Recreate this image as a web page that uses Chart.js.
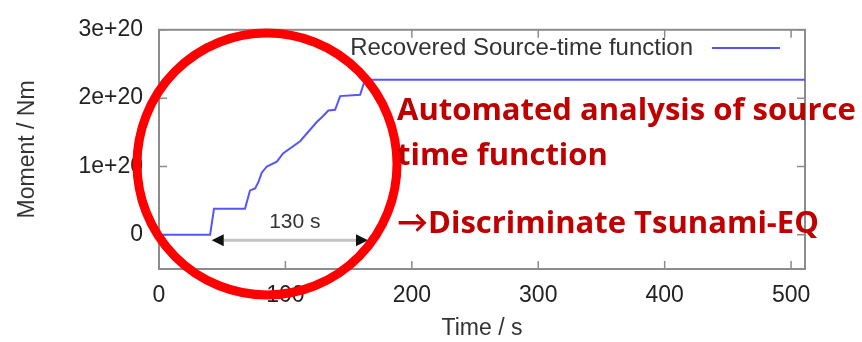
<!DOCTYPE html>
<html>
<head>
<meta charset="utf-8">
<script src="https://cdn.jsdelivr.net/npm/chart.js@4/dist/chart.umd.min.js"></script>
<style>
  html, body { margin: 0; padding: 0; background: #ffffff; }
  #wrap { width: 862px; height: 342px; position: relative; }
</style>
</head>
<body>
<div id="wrap"><canvas id="stf" width="862" height="342"></canvas></div>
<script>
// Recovered source-time function: cumulative moment (Nm) against time (s)
const timeS = [0, 40.4, 43.5, 68.0, 72.0, 76.0, 78.6, 81.3, 85.3, 93.2, 98.1, 111.6, 124.8, 128.8, 134.0, 139.3, 143.3, 159.1, 162.9, 511];
const momentNm = [0, 0, 0.38e20, 0.38e20, 0.65e20, 0.68e20, 0.77e20, 0.91e20, 1.00e20, 1.07e20, 1.19e20, 1.37e20, 1.65e20, 1.72e20, 1.82e20, 1.83e20, 2.03e20, 2.05e20, 2.27e20, 2.27e20];

const xTickValues = [0, 100, 200, 300, 400, 500];
const yTickValues = [0, 1e20, 2e20, 3e20];

const seriesLabel = 'Recovered Source-time function';

// Duration marker: start/end time (s) and moment level (Nm) of the double arrow
const durationSpan = [41.7, 165.3];
const durationLevel = -0.08e20;
const durationText = '130 s';

// Callout lines
const calloutLines = ['Automated analysis of source', 'time function', '\u2192Discriminate Tsunami-EQ'];

const points = timeS.map((t, i) => ({ x: t, y: momentNm[i] }));

function fmtMoment(v) {
  if (v === 0) return '0';
  return (v / 1e20) + 'e+20';
}

const FRAME = '#8c8c8c';
const AXIS_FONT = '"Liberation Sans", Arial, sans-serif';

const framePlugin = {
  id: 'framePlugin',
  beforeDatasetsDraw(chart) {
    const { ctx, chartArea: a, scales } = chart;
    ctx.save();
    ctx.strokeStyle = FRAME;
    ctx.lineWidth = 2;
    ctx.strokeRect(a.left, a.top, a.right - a.left, a.bottom - a.top);
    ctx.lineWidth = 1.5;
    const tl = 8;
    ctx.beginPath();
    xTickValues.forEach(v => {
      const px = scales.x.getPixelForValue(v);
      ctx.moveTo(px, a.bottom); ctx.lineTo(px, a.bottom - tl);
      ctx.moveTo(px, a.top); ctx.lineTo(px, a.top + tl);
    });
    yTickValues.forEach(v => {
      const py = scales.y.getPixelForValue(v);
      ctx.moveTo(a.left, py); ctx.lineTo(a.left + tl, py);
      ctx.moveTo(a.right, py); ctx.lineTo(a.right - tl, py);
    });
    ctx.stroke();
    ctx.restore();
  },
  afterDatasetsDraw(chart) {
    const { ctx, scales } = chart;
    const ds = chart.data.datasets[0];
    ctx.save();
    // duration arrow
    const x1 = scales.x.getPixelForValue(durationSpan[0]);
    const x2 = scales.x.getPixelForValue(durationSpan[1]);
    const y = scales.y.getPixelForValue(durationLevel);
    ctx.strokeStyle = '#c4c4c4';
    ctx.lineWidth = 3;
    ctx.beginPath();
    ctx.moveTo(x1 + 8, y); ctx.lineTo(x2 - 8, y);
    ctx.stroke();
    ctx.fillStyle = '#111111';
    ctx.beginPath();
    ctx.moveTo(x1, y); ctx.lineTo(x1 + 12, y - 6); ctx.lineTo(x1 + 12, y + 6); ctx.closePath();
    ctx.moveTo(x2, y); ctx.lineTo(x2 - 12, y - 6); ctx.lineTo(x2 - 12, y + 6); ctx.closePath();
    ctx.fill();
    ctx.fillStyle = '#333333';
    ctx.font = '21px ' + AXIS_FONT;
    ctx.textAlign = 'center';
    ctx.textBaseline = 'middle';
    ctx.fillText(durationText, (x1 + x2) / 2 + 5, y - 18);

    // key: text then line sample, at the top right
    ctx.font = '24px ' + AXIS_FONT;
    ctx.textAlign = 'right';
    ctx.fillStyle = '#333333';
    ctx.fillText(ds.label, 693, 48);
    ctx.strokeStyle = ds.borderColor;
    ctx.lineWidth = 2;
    ctx.beginPath();
    ctx.moveTo(712, 48); ctx.lineTo(780, 48);
    ctx.stroke();
    ctx.restore();
  },
  afterDraw(chart) {
    const { ctx } = chart;
    ctx.save();
    // highlight ring
    ctx.strokeStyle = '#ff0000';
    ctx.lineWidth = 9;
    ctx.beginPath();
    ctx.ellipse(267, 164, 130, 131, 0, 0, Math.PI * 2);
    ctx.stroke();
    // callout text
    ctx.fillStyle = '#c00000';
    ctx.font = 'bold 31px "Open Sans", Lato, sans-serif';
    ctx.textAlign = 'left';
    ctx.textBaseline = 'alphabetic';
    ctx.fillText(calloutLines[0], 397, 120);
    ctx.fillText(calloutLines[1], 397, 165);
    ctx.fillText(calloutLines[2], 397, 233);
    ctx.restore();
  }
};

new Chart(document.getElementById('stf'), {
  type: 'line',
  data: {
    datasets: [{
      label: seriesLabel,
      data: points,
      borderColor: 'rgb(85, 85, 255)',
      borderWidth: 2,
      pointRadius: 0,
      tension: 0,
      fill: false
    }]
  },
  options: {
    responsive: false,
    animation: false,
    events: [],
    layout: { padding: { left: 14, top: 19, right: 57, bottom: 0 } },
    plugins: { legend: { display: false }, tooltip: { enabled: false } },
    scales: {
      x: {
        type: 'linear',
        min: 0,
        max: 511,
        afterBuildTicks: s => { s.ticks = xTickValues.map(v => ({ value: v })); },
        afterFit: s => { s.height = 73; },
        grid: { display: false, drawTicks: false },
        border: { display: false },
        ticks: { color: '#222222', font: { family: AXIS_FONT, size: 23 }, padding: 13, maxRotation: 0, autoSkip: false },
        title: { display: true, text: 'Time / s', color: '#333333', font: { family: AXIS_FONT, size: 23 }, padding: { top: 0, bottom: 0 } }
      },
      y: {
        type: 'linear',
        min: -0.5e20,
        max: 3e20,
        afterBuildTicks: s => { s.ticks = yTickValues.map(v => ({ value: v })); },
        afterFit: s => { s.width = 145; },
        grid: { display: false, drawTicks: false },
        border: { display: false },
        ticks: { color: '#222222', font: { family: AXIS_FONT, size: 23 }, padding: 16, callback: v => fmtMoment(v), autoSkip: false },
        title: { display: true, text: 'Moment / Nm', color: '#333333', font: { family: AXIS_FONT, size: 23 }, padding: { top: 0, bottom: 0 } }
      }
    }
  },
  plugins: [framePlugin]
});
</script>
</body>
</html>
